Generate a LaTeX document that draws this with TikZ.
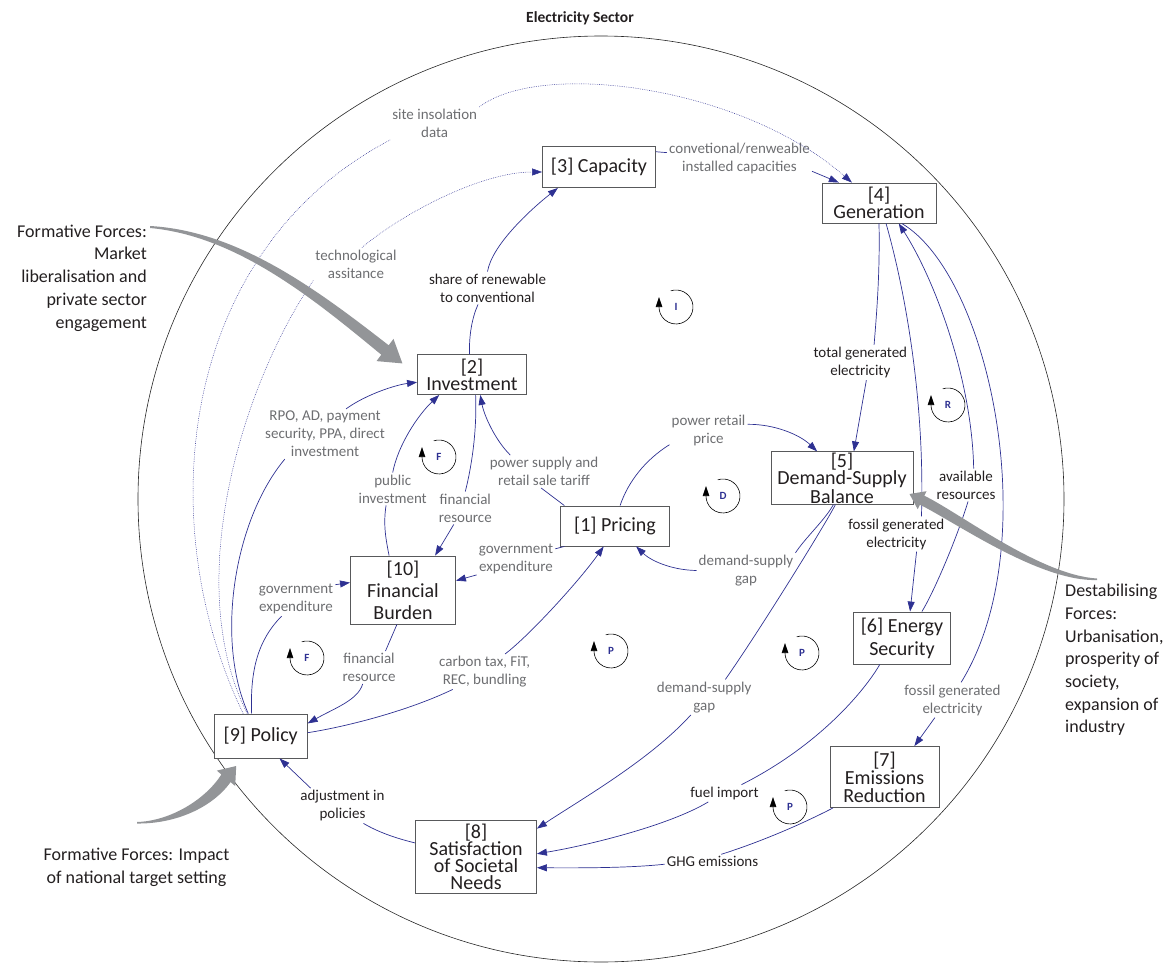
\documentclass[tikz,border=0pt]{standalone}
\usepackage{fontspec}
\setmainfont{Carlito}
\usetikzlibrary{arrows.meta}
\definecolor{linkblue}{HTML}{2E3192}
\definecolor{labelgray}{HTML}{6D6E71}
\definecolor{labeldark}{HTML}{231F20}
\definecolor{boxgray}{HTML}{58595B}
\definecolor{forcegray}{HTML}{939598}
\tikzset{
    sectorbox/.style={rectangle, draw=boxgray, line width=0.9pt, fill=white, inner sep=1pt, align=center, text=labeldark, font=\fontsize{20}{17}\selectfont},
    lbl/.style={align=center, inner sep=2pt, text=labelgray, font=\fontsize{15}{18}\selectfont},
    lbldark/.style={lbl, text=labeldark},
    forcetext/.style={inner sep=0pt, text=labeldark, font=\fontsize{18}{22.7}\selectfont},
    link/.style={draw=linkblue, line width=0.7pt},
    arrow/.style={link, -{Triangle[length=10pt, width=7pt]}},
    dottedlink/.style={link, line width=0.5pt, dash pattern=on 0.7pt off 1.1pt},
    dottedarrow/.style={dottedlink, -{Triangle[length=10pt, width=7pt]}},
    looptag/.style={text=linkblue, font=\bfseries\fontsize{11}{11}\selectfont, inner sep=0pt},
    loopmark/.style={draw=black, line width=0.6pt, -{Triangle[length=10pt, width=6.5pt]}}
}

\begin{document}
\begin{tikzpicture}[x=1pt, y=-1pt]
    \useasboundingbox (0,0) rectangle (1171,964);
    \draw[black!85, line width=0.6pt] (601,499) circle[radius=463pt];
    \node[font=\bfseries\fontsize{15.5}{15.5}\selectfont, text=labeldark] (title) at (580,18) {Electricity Sector};

    \node[sectorbox, minimum width=113pt, minimum height=41pt] (cap) at (599,167) {[3] Capacity};
    \node[sectorbox, minimum width=114pt, minimum height=40pt] (gen) at (879,203) {[4]\\Generation};
    \node[sectorbox, minimum width=109pt, minimum height=40pt] (inv) at (472,374.5) {[2]\\Investment};
    \node[sectorbox, minimum width=142pt, minimum height=51pt, font=\fontsize{20}{15}\selectfont] (ds) at (842,478) {[5]\\Demand-Supply\\Balance};
    \node[sectorbox, minimum width=109pt, minimum height=40pt] (pri) at (615,526) {[1] Pricing};
    \node[sectorbox, minimum width=105pt, minimum height=68pt, font=\fontsize{20}{22}\selectfont] (fin) at (403,590) {[10]\\Financial\\Burden};
    \node[sectorbox, minimum width=93pt, minimum height=44pt] (pol) at (260.7,736) {[9] Policy};
    \node[sectorbox, minimum width=97pt, minimum height=52pt, font=\fontsize{20}{23}\selectfont] (es) at (902,638) {[6] Energy\\Security};
    \node[sectorbox, minimum width=109pt, minimum height=61pt, font=\fontsize{20}{18}\selectfont] (em) at (884.5,777) {[7]\\Emissions\\Reduction};
    \node[sectorbox, minimum width=121pt, minimum height=73pt] (sat) at (476,857) {[8]\\Satisfaction\\of Societal\\Needs};

    \node[lbl] (lsite) at (434.7,123.5) {site insolation\\data};
    \node[lbl] (lcapinst) at (739.5,158.5) {convetional/renweable\\installed capacities};
    \node[lbl] (ltech) at (356,264) {technological\\assitance};
    \node[lbldark] (lshare) at (487.5,288) {share of renewable\\to conventional};
    \node[lbl] (lrpo) at (325,434) {RPO, AD, payment\\security, PPA, direct\\investment};
    \node[lbl] (lpubinv) at (392.7,489) {public\\investment};
    \node[lbl] (lfinres) at (465.3,508) {financial\\resource};
    \node[lbl] (ltariff) at (544,471.5) {power supply and\\retail sale tariff};
    \node[lbl] (lprice) at (708.5,430.5) {power retail\\price};
    \node[lbldark] (ltotal) at (860.3,362.5) {total generated\\electricity};
    \node[lbldark] (lavail) at (966,485) {available\\resources};
    \node[lbldark] (lfossil) at (896.3,534) {fossil generated\\electricity};
    \node[lbl] (lgovexp) at (516,559) {government\\expenditure};
    \node[lbl] (lgap) at (746,570.5) {demand-supply\\gap};
    \node[lbl] (lgovexpb) at (296,599) {government\\expenditure};
    \node[lbl] (lfinresb) at (369,667.5) {financial\\resource};
    \node[lbl] (lcarbon) at (484.7,671.7) {carbon tax, FiT,\\REC, bundling};
    \node[lbl] (lgapb) at (704.2,697.2) {demand-supply\\gap};
    \node[lbl] (lfossilb) at (952.5,700) {fossil generated\\electricity};
    \node[lbldark] (lfuel) at (724.5,793.3) {fuel import};
    \node[lbldark] (lghg) at (712.5,861.7) {GHG emissions};
    \node[lbldark] (ladjust) at (342.5,805.8) {adjustment in\\policies};

    \draw[dottedlink] (pol.128) .. controls (150,520) and (180,250) .. (lsite.south west);
    \draw[dottedarrow] (lsite.north east) .. controls (540,60) and (740,85) .. (gen.143);
    \draw[dottedlink] (pol.121) .. controls (180,580) and (245,380) .. (ltech.south west);
    \draw[dottedarrow] (ltech.70) .. controls (400,215) and (480,172) .. (cap.185);

    \draw[link] (cap.15) -- (lcapinst);
    \draw[arrow] (lcapinst.-10) -- (gen.153);
    \draw[link] (inv.97) .. controls (469,335) and (472,318) .. (lshare.-120);
    \draw[arrow] (lshare.north) .. controls (492,245) and (530,210) .. (cap.-153);
    \draw[link] (pol.119) .. controls (215,640) and (234,520) .. (lrpo.-148);
    \draw[arrow] (lrpo.50) .. controls (365,395) and (395,385) .. (inv.188);
    \draw[link] (pol.112) .. controls (250,670) and (258,640) .. (lgovexpb.-130);
    \draw[arrow] (lgovexpb.20) -- (fin.172);
    \draw[link] (fin.-100) -- (lfinresb.45);
    \draw[arrow] (lfinresb.-111) .. controls (358,700) and (335,708) .. (pol.15);
    \draw[link] (pol.4) .. controls (350,726) and (410,710) .. (lcarbon.-151);
    \draw[arrow] (lcarbon.41) .. controls (530,635) and (580,580) .. (pri.241);
    \draw[link] (pri.-158) -- (lgovexp);
    \draw[arrow] (lgovexp.-158) -- (fin.10);
    \draw[link] (pri.158) -- (ltariff.-100);
    \draw[arrow] (ltariff.154) .. controls (495,440) and (484,415) .. (inv.-68);
    \draw[link] (fin.112) .. controls (386,540) and (383,525) .. (lpubinv.-112);
    \draw[arrow] (lpubinv.north) .. controls (398,445) and (418,415) .. (inv.212);
    \draw[link] (inv.-80) .. controls (477,430) and (472,465) .. (lfinres.north);
    \draw[arrow] (lfinres.-125) -- (fin.47);
    \draw[link] (pri.76) .. controls (628,482) and (645,460) .. (lprice.-160);
    \draw[arrow] (lprice.9) .. controls (775,424) and (800,435) .. (ds.133);
    \draw[link] (gen.-90) .. controls (880,270) and (877,310) .. (ltotal.52);
    \draw[arrow] (ltotal.-71) -- (ds.66);
    \draw[link] (gen.-71) .. controls (905,290) and (925,400) .. (lfossil.35);
    \draw[arrow] (lfossil.-41) -- (es.73);
    \draw[link] (es.53) .. controls (935,590) and (958,535) .. (lavail.-83);
    \draw[arrow] (lavail.65) .. controls (972,380) and (935,280) .. (gen.-46);
    \draw[link] (gen.-42) .. controls (990,275) and (1046,545) .. (lfossilb.64);
    \draw[arrow] (lfossilb.-135) -- (em.46);
    \draw[link] (ds.-108) .. controls (825,520) and (805,538) .. (lgap.north east);
    \draw[arrow] (lgap.west) .. controls (670,570) and (650,560) .. (pri.-44);
    \draw[link] (ds.-104) .. controls (828,520) and (760,630) .. (lgapb.40);
    \draw[arrow] (lgapb.-127) .. controls (650,760) and (580,800) .. (sat.25);
    \draw[link] (es.-130) .. controls (865,690) and (820,745) .. (lfuel.27);
    \draw[arrow] (lfuel.-152) .. controls (670,825) and (590,845) .. (sat.3);
    \draw[link] (em.-149) .. controls (800,825) and (760,842) .. (lghg.40);
    \draw[arrow] (lghg.-177) .. controls (630,868) and (580,868) .. (sat.-10);
    \draw[link] (sat.167) .. controls (395,838) and (378,832) .. (ladjust.-40);
    \draw[arrow] (ladjust.151) -- (pol.-50);

    \foreach \x/\y/\l [count=\i] in {676/307/I, 439/457/F, 723/496/D, 948/405/R, 307/658/F, 611/651/P, 802/653/P, 790/807/P}{
        \node[looptag] (loop\i) at (\x,\y) {\l};
        \draw[loopmark] (\x,\y) ++(108:17pt) arc[start angle=108, end angle=-180, radius=17pt] -- ++(0pt,10pt);
    }

    \node[forcetext, align=right, anchor=east] (formmarket) at (147,278) {Formative Forces:\\Market\\liberalisation and\\private sector\\engagement};
    \node[forcetext, align=left, anchor=west] (destab) at (1065,660) {Destabilising\\Forces:\\Urbanisation,\\prosperity of\\society,\\expansion of\\industry};
    \node[forcetext, align=center] (formtarget) at (136.5,867) {Formative Forces: Impact\\of national target setting};

    \fill[forcegray] (150,226) .. controls (240,231) and (320,292) .. (388.7,345.3) -- (393.5,338.9) -- (402.4,363.4) -- (376.5,361.1) -- (381.3,354.7) .. controls (316,301) and (238,236) .. (150,228) -- cycle;
    \fill[forcegray] (137,822) .. controls (170,821) and (205,800) .. (221.4,774.5) -- (216.8,770.6) -- (236.2,766) -- (235.2,786) -- (230.6,782.1) .. controls (212,808) and (175,824) .. (137,823.5) -- cycle;
    \fill[forcegray] (1097,578.5) .. controls (1040,575) and (960.3,513.3) .. (924.3,495.7) -- (926.5,491.2) -- (909.5,494) -- (917.7,509.2) -- (919.9,504.7) .. controls (955,522) and (1040,582) .. (1097,580) -- cycle;
\end{tikzpicture}
\end{document}
